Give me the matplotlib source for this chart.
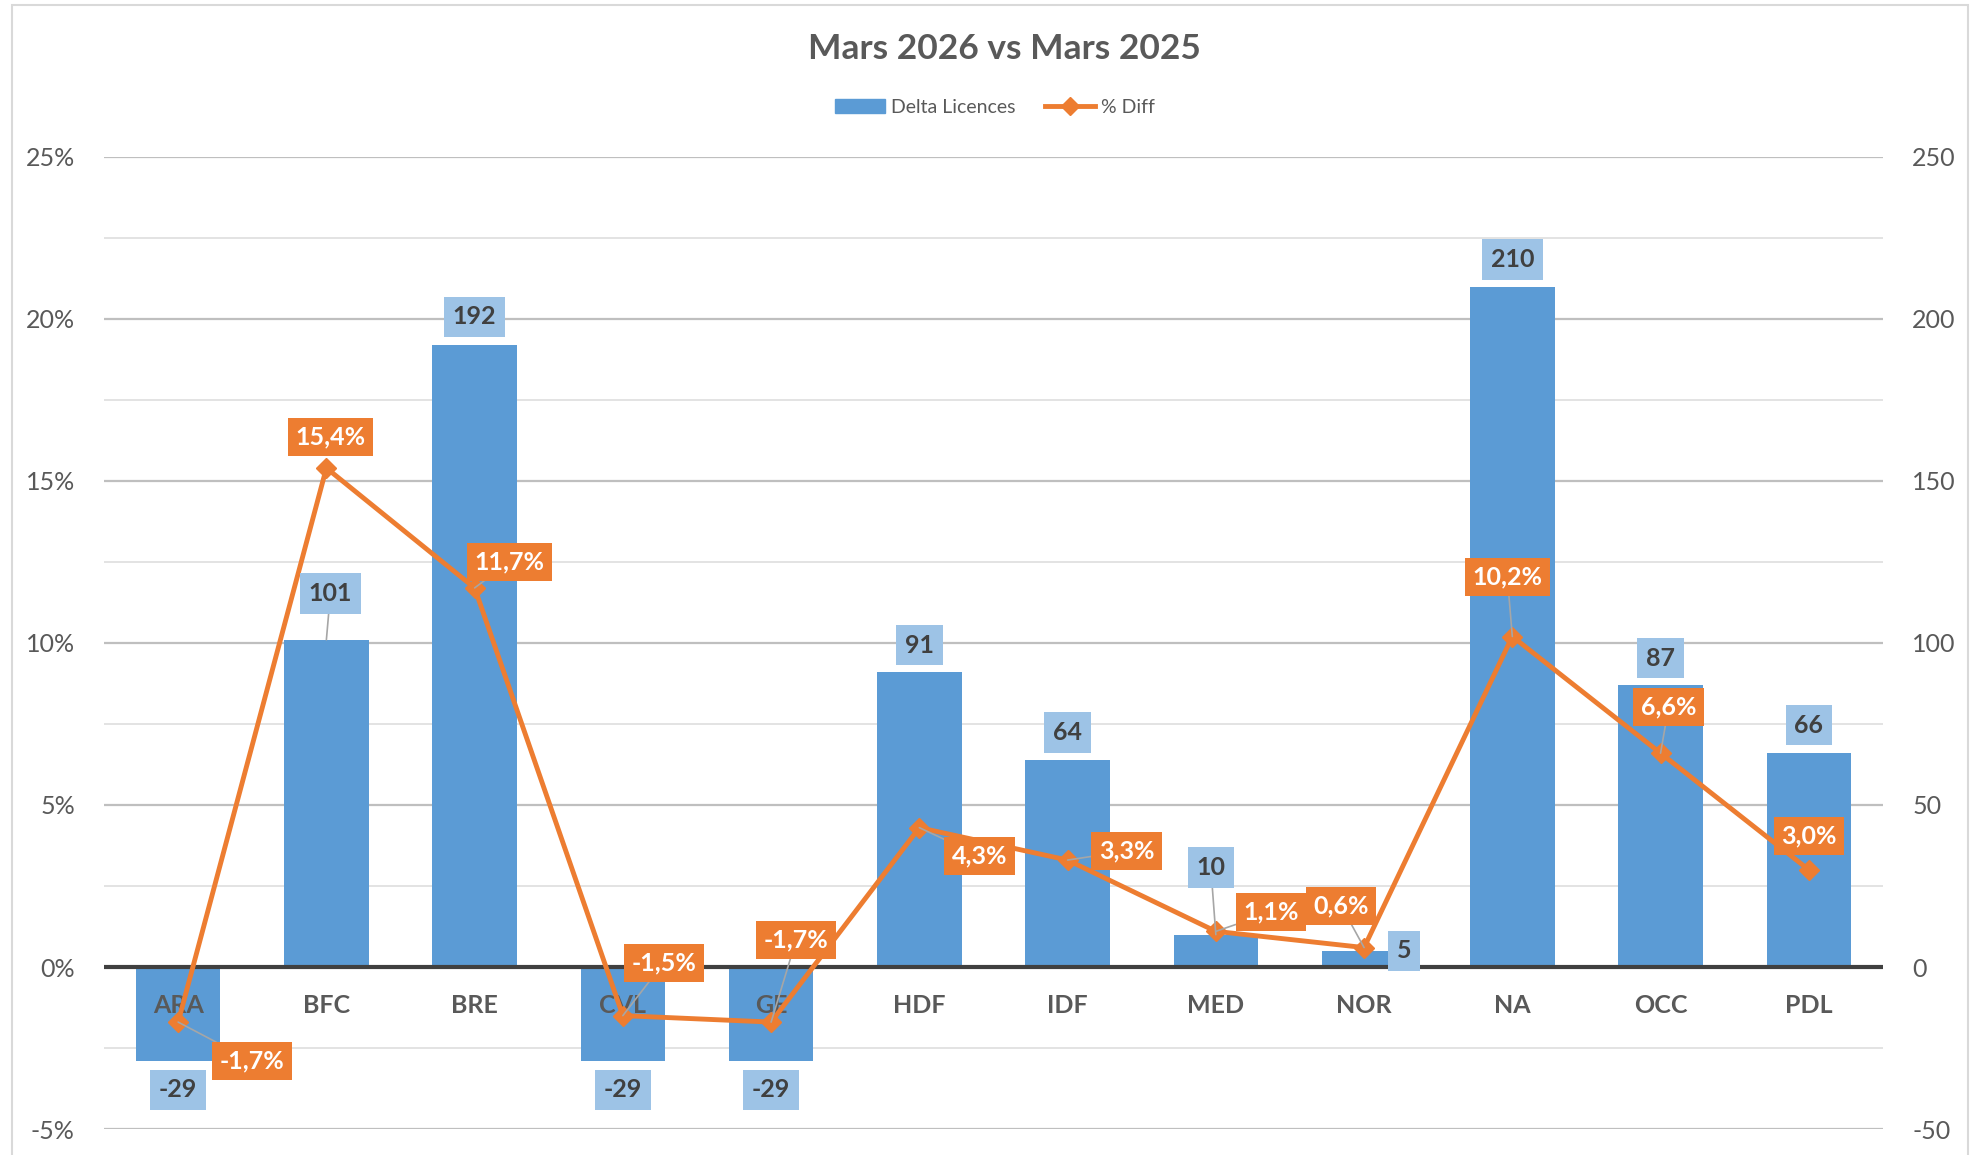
import numpy as np
import matplotlib
matplotlib.use('Agg')
import matplotlib.pyplot as plt
from matplotlib.patches import Patch, Rectangle
from matplotlib.lines import Line2D

#%% data
regions = ['ARA', 'BFC', 'BRE', 'CVL', 'GE', 'HDF', 'IDF', 'MED', 'NOR', 'NA', 'OCC', 'PDL']
delta_licences = [-29, 101, 192, -29, -29, 91, 64, 10, 5, 210, 87, 66]
pct_diff = [-1.7, 15.4, 11.7, -1.5, -1.7, 4.3, 3.3, 1.1, 0.6, 10.2, 6.6, 3.0]

# label offsets in pixels (dx, dy) from the point, as placed in the source chart
bar_lab_off = [(0, -29), (4, 46), (0, 28), (0, -29), (0, -29), (0, 27),
               (0, 27), (-5, 67), (40, 0), (0, 27), (0, 27), (0, 28)]
line_lab_off = [(74, -39), (4, 31), (35, 26), (41, 53), (25, 82), (60, -28),
                (59, 9), (55, 19), (-23, 42), (-5, 60), (8, 46), (0, 34)]

#%% style
plt.rcParams['font.family'] = ['Lato', 'DejaVu Sans']
plt.rcParams['axes.unicode_minus'] = False
blue = '#5B9BD5'
lblue = '#9DC3E6'
orange = '#ED7D31'
grey_txt = '#595959'

fig = plt.figure(figsize=(19.7, 11.55), dpi=100)
ax2 = fig.add_axes([0.0528, 0.0225, 0.9030, 0.8416])  # bars, right axis
ax = ax2.twinx()  # line, left axis (drawn on top)
ax.yaxis.tick_left()
ax2.yaxis.tick_right()
ax.set_zorder(2)
ax.patch.set_visible(False)

x = np.arange(len(regions))

# grid on the bar axis so it stays behind bars
for v in np.arange(-50, 251, 25):
    major = (v % 50 == 0)
    ax2.axhline(v, color='#BFBFBF' if major else '#E0E0E0', lw=1.6 if major else 1.3, zorder=0)
ax2.bar(x, delta_licences, width=0.57, color=blue, zorder=2)
ax2.axhline(0, color='#404040', lw=3, zorder=3)

ax.plot(x, pct_diff, color=orange, lw=3.5, marker='D', markersize=10.5, zorder=3)

ax2.set_xlim(-0.5, len(regions) - 0.5)
ax2.set_ylim(-50, 250)
ax.set_ylim(-5, 25)
ax2.set_yticks(np.arange(-50, 251, 50))
ax.set_yticks(np.arange(-5, 26, 5))
ax.set_yticklabels(['{}%'.format(int(t)) for t in np.arange(-5, 26, 5)])
for a in (ax, ax2):
    a.tick_params(axis='y', length=0, labelsize=18, labelcolor=grey_txt, pad=21)
    a.set_xticks([])
    for s in a.spines.values():
        s.set_visible(False)

# category labels just under the zero line
for i, r in enumerate(regions):
    ax2.annotate(r, (i, 0), xytext=(0, -38), textcoords='offset pixels',
                 ha='center', va='center', fontsize=18, fontweight='bold',
                 color=grey_txt, zorder=4)

# bar data labels
for i, v in enumerate(delta_licences):
    dx, dy = bar_lab_off[i]
    arrow = dict(arrowstyle='-', color='#A6A6A6', lw=1.2, shrinkA=0, shrinkB=0) if np.hypot(dx, dy) > 40 else None
    ax.annotate(str(v), (i, v / 10.0), xytext=(dx, dy), textcoords='offset pixels',
                ha='center', va='center', fontsize=18, fontweight='bold', color='#404040',
                bbox=dict(boxstyle='square,pad=0.35', fc=lblue, ec='none'),
                arrowprops=arrow, zorder=5)

# line data labels
for i, v in enumerate(pct_diff):
    dx, dy = line_lab_off[i]
    arrow = dict(arrowstyle='-', color='#A6A6A6', lw=1.2, shrinkA=0, shrinkB=0) if np.hypot(dx, dy) > 40 else None
    ax.annotate('{:.1f}%'.format(v).replace('.', ','), (i, v), xytext=(dx, dy),
                textcoords='offset pixels', ha='center', va='center', fontsize=18,
                fontweight='bold', color='white',
                bbox=dict(boxstyle='square,pad=0.3', fc=orange, ec='none'),
                arrowprops=arrow, zorder=5)

fig.text(0.51, 0.958, 'Mars 2026 vs Mars 2025', ha='center', va='center',
         fontsize=25.5, fontweight='bold', color=grey_txt)

handles = [Patch(color=blue, label='Delta Licences'),
           Line2D([], [], color=orange, lw=3.5, marker='D', markersize=9, label='% Diff')]
fig.legend(handles=handles, loc='center', bbox_to_anchor=(0.505, 0.907), ncol=2,
           frameon=False, fontsize=14, labelcolor=grey_txt, handlelength=2.6,
           handleheight=0.7, columnspacing=1.5, handletextpad=0.3)

fig.patches.append(Rectangle((12 / 1970, -0.01), 1956 / 1970, 1.0057, transform=fig.transFigure,
                             fill=False, ec='#D9D9D9', lw=1.5))

plt.savefig('out.png', dpi=100)
